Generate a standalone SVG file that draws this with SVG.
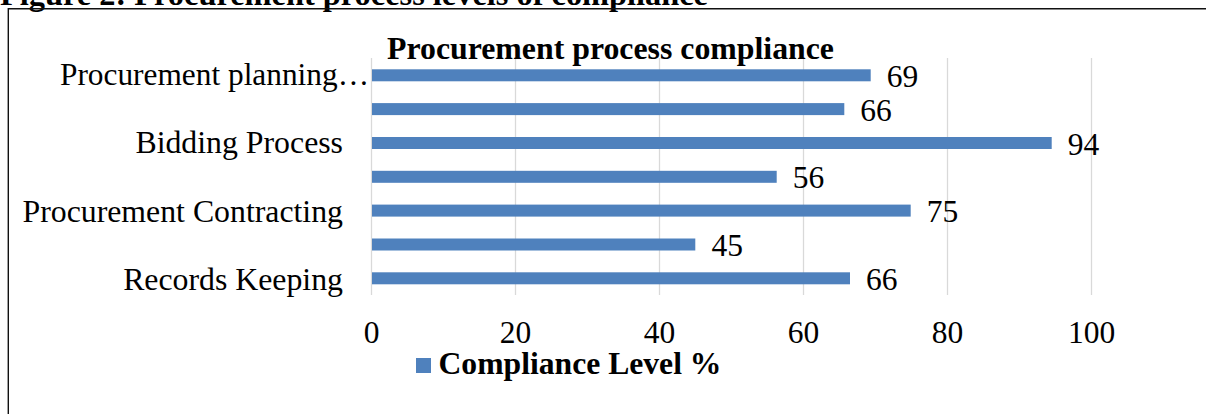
<svg xmlns="http://www.w3.org/2000/svg" width="1206" height="414" viewBox="0 0 1206 414">
<style>
.t{font-family:"Liberation Serif","Times New Roman",serif;fill:#000;font-size:31.5px}
.c{font-size:31.8px}
.b{font-weight:bold}
.bar{fill:#4F81BD}
.grid{stroke:#D9D9D9;stroke-width:1.3}
.frame{stroke:#111;stroke-width:1.4;fill:none}
</style>
<rect x="0" y="0" width="1206" height="414" fill="#fff"/>
<text id="figure-caption" class="t b" x="0" y="4.5" font-size="32" textLength="708" lengthAdjust="spacingAndGlyphs">Figure 2: Procurement process levels of compliance</text>
<path class="frame" d="M8.3 414 V8.7 H1206"/>
<g id="gridlines">
<line class="grid" x1="371.5" y1="58" x2="371.5" y2="295"/>
<line class="grid" x1="515.5" y1="58" x2="515.5" y2="295"/>
<line class="grid" x1="659.5" y1="58" x2="659.5" y2="295"/>
<line class="grid" x1="803.5" y1="58" x2="803.5" y2="295"/>
<line class="grid" x1="947.5" y1="58" x2="947.5" y2="295"/>
<line class="grid" x1="1091.5" y1="58" x2="1091.5" y2="295"/>
</g>
<text id="chart-title" class="t b" x="387" y="59" textLength="447" lengthAdjust="spacingAndGlyphs">Procurement process compliance</text>
<g id="category-labels">
<text class="t c" x="60" y="85" textLength="309" lengthAdjust="spacingAndGlyphs">Procurement planning…</text>
<text class="t c" x="343" y="152.7" text-anchor="end">Bidding Process</text>
<text class="t c" x="343" y="221.7" text-anchor="end">Procurement Contracting</text>
<text class="t c" x="343" y="290" text-anchor="end">Records Keeping</text>
</g>
<g id="bar-1"><rect class="bar" x="372" y="69.3" width="498.7" height="12"/><text class="t" x="886.7" y="87.3">69</text></g>
<g id="bar-2"><rect class="bar" x="372" y="103.1" width="472.3" height="12"/><text class="t" x="860.3" y="120.7">66</text></g>
<g id="bar-3"><rect class="bar" x="372" y="137" width="679.7" height="12"/><text class="t" x="1067.7" y="155">94</text></g>
<g id="bar-4"><rect class="bar" x="372" y="170.8" width="404.7" height="12"/><text class="t" x="792.7" y="188.3">56</text></g>
<g id="bar-5"><rect class="bar" x="372" y="204.6" width="538.7" height="12"/><text class="t" x="926.7" y="221.7">75</text></g>
<g id="bar-6"><rect class="bar" x="372" y="238.5" width="323.3" height="12"/><text class="t" x="711.5" y="256">45</text></g>
<g id="bar-7"><rect class="bar" x="372" y="272.3" width="478" height="12"/><text class="t" x="866" y="289.5">66</text></g>
<g id="x-axis-labels">
<text class="t" x="371.5" y="343.3" text-anchor="middle">0</text>
<text class="t" x="515.5" y="343.3" text-anchor="middle">20</text>
<text class="t" x="659.5" y="343.3" text-anchor="middle">40</text>
<text class="t" x="803.5" y="343.3" text-anchor="middle">60</text>
<text class="t" x="947.5" y="343.3" text-anchor="middle">80</text>
<text class="t" x="1091.5" y="343.3" text-anchor="middle">100</text>
</g>
<g id="legend">
<rect class="bar" x="416" y="358" width="15" height="15"/>
<text class="t b" x="438.5" y="374" textLength="283" lengthAdjust="spacingAndGlyphs">Compliance Level %</text>
</g>
</svg>
